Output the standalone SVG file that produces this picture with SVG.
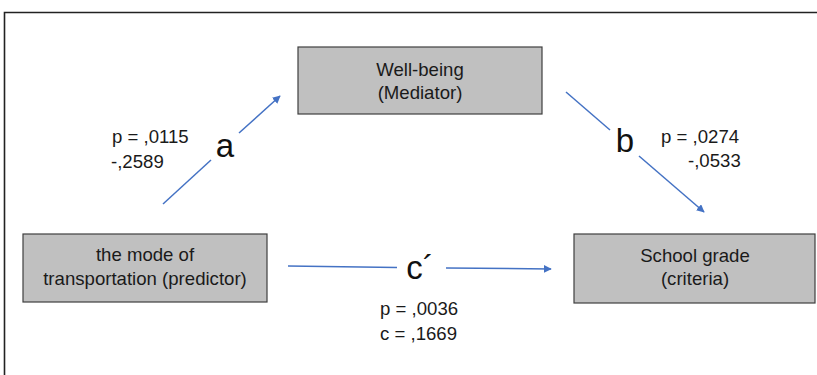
<svg xmlns="http://www.w3.org/2000/svg" width="817" height="375" viewBox="0 0 817 375">
  <style>
    .box { fill: #c0c0c0; stroke: #3f3f3f; stroke-width: 1.2; }
    .lbl { font-family: "Liberation Sans", Arial, sans-serif; font-size: 18.6px; fill: #1a1a1a; }
    .path-lbl { font-family: "Liberation Sans", Arial, sans-serif; font-size: 33px; fill: #111; }
    .edge { stroke: #4472c4; stroke-width: 1.5; fill: none; }
  </style>
  <defs>
    <marker id="arrow" viewBox="0 0 10 10" refX="9" refY="5" markerWidth="8" markerHeight="8" markerUnits="userSpaceOnUse" orient="auto">
      <path d="M0,0 L10,5 L0,10 z" fill="#4472c4"/>
    </marker>
  </defs>

  <rect width="817" height="375" fill="#ffffff"/>
  <!-- outer frame -->
  <path d="M4.5,375 V12.5 H817" fill="none" stroke="#222" stroke-width="1.6"/>

  <g id="mediator">
    <rect class="box" x="298" y="47" width="244" height="67"/>
    <text class="lbl" x="420" y="76" text-anchor="middle">Well-being</text>
    <text class="lbl" x="420" y="99" text-anchor="middle">(Mediator)</text>
  </g>

  <g id="predictor">
    <rect class="box" x="23" y="234" width="244" height="68"/>
    <text class="lbl" x="145" y="261" text-anchor="middle">the mode of</text>
    <text class="lbl" x="145" y="285" text-anchor="middle">transportation (predictor)</text>
  </g>

  <g id="criteria">
    <rect class="box" x="574" y="234" width="241" height="69"/>
    <text class="lbl" x="695" y="262" text-anchor="middle">School grade</text>
    <text class="lbl" x="695" y="285" text-anchor="middle">(criteria)</text>
  </g>

  <g id="connectors">
    <!-- path a -->
    <line class="edge" x1="163" y1="204" x2="211" y2="160"/>
    <line class="edge" x1="239" y1="133" x2="280" y2="96" marker-end="url(#arrow)"/>
    <!-- path b -->
    <line class="edge" x1="566" y1="92" x2="610" y2="130"/>
    <line class="edge" x1="639" y1="156" x2="704" y2="212" marker-end="url(#arrow)"/>
    <!-- direct path c' -->
    <line class="edge" x1="288" y1="266" x2="397" y2="267.5"/>
    <line class="edge" x1="446" y1="268" x2="551" y2="269" marker-end="url(#arrow)"/>
  </g>

  <g id="edge-labels">
    <text class="path-lbl" x="225" y="157" text-anchor="middle">a</text>
    <text class="lbl" x="112" y="143">p = ,0115</text>
    <text class="lbl" x="111" y="168">-,2589</text>

    <text class="path-lbl" x="625" y="152" text-anchor="middle">b</text>
    <text class="lbl" x="661" y="143">p = ,0274</text>
    <text class="lbl" x="688" y="167">-,0533</text>

    <text class="path-lbl" x="420" y="279" text-anchor="middle">c´</text>
    <text class="lbl" x="380" y="315">p = ,0036</text>
    <text class="lbl" x="380" y="340">c = ,1669</text>
  </g>
</svg>
